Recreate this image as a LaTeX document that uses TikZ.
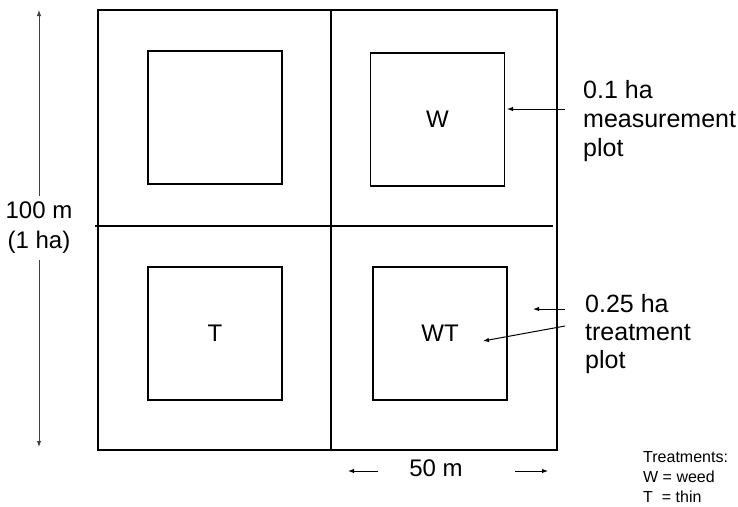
\documentclass[tikz,border=0pt]{standalone}
\usepackage{fontspec}
\setmainfont{Liberation Sans}
\usetikzlibrary{arrows.meta}

\tikzset{
	edge/.style={line width=1.3pt},
	measbox/.style={draw, edge, minimum width=134pt, minimum height=133pt, inner sep=0pt, font=\fontsize{24}{29}\selectfont},
	biglabel/.style={inner sep=0pt, align=left, font=\fontsize{25}{29}\selectfont},
	smalllabel/.style={inner sep=0pt, align=left, font=\fontsize{16}{20}\selectfont},
	ptr/.style={-{Latex[length=6pt,width=4.5pt]}, line width=1pt}
}

\begin{document}
\begin{tikzpicture}[x=1pt,y=-1pt]
	%%%%% START %%%%%
	\useasboundingbox (0,0) rectangle (738,506);
	
	% the 1 ha stand and its four treatment plots
	\node[draw, edge, minimum width=459pt, minimum height=440pt, inner sep=0pt] (stand) at (327.5,230) {};
	\draw[edge] (331,10) -- (331,450);
	\draw[edge] (95,226) -- (553,226);
	
	% measurement plots
	\node[measbox] (tl) at (215,117.5) {};
	\node[measbox] (tr) at (437.5,119.5) {W};
	\node[measbox] (bl) at (215,333.5) {T};
	\node[measbox] (br) at (440,333.5) {WT};
	
	% labels on the right
	\node[biglabel, anchor=north west] (meas) at (583,80) {0.1 ha\\measurement\\plot};
	\coordinate (measfrom) at (565,109);
	\coordinate (measto) at (507,109);
	\draw[ptr] (measfrom) -- (measto);
	
	\node[biglabel, anchor=north west, font=\fontsize{25}{28}\selectfont] (treat) at (585,294) {0.25 ha\\treatment\\plot};
	\coordinate (treatfrom) at (565,309);
	\coordinate (treatto) at (533,309);
	\coordinate (wtfrom) at (565,326);
	\coordinate (wtto) at (483,341);
	\draw[ptr] (treatfrom) -- (treatto);
	\draw[ptr] (wtfrom) -- (wtto);
	
	% dimensions
	\node[biglabel, align=center, font=\fontsize{24}{30}\selectfont] (height) at (39,228) {100 m\\(1 ha)};
	\coordinate (htop) at (39,10);
	\coordinate (hbot) at (39,447);
	\draw[ptr, black!75] (height.north) ++(0,-6) -- (htop);
	\draw[ptr, black!75] (height.south) ++(0,6) -- (hbot);
	
	\node[biglabel, font=\fontsize{24}{29}\selectfont] (width) at (436,468) {50 m};
	\coordinate (wleft) at (348,471);
	\coordinate (wright) at (548,471);
	\draw[ptr] (378,471) -- (wleft);
	\draw[ptr] (515,471) -- (wright);
	
	\node[smalllabel, anchor=north west] (key) at (643,451) {Treatments:\\W = weed\\T\ \ = thin};
	
	%%%%% END %%%%%
\end{tikzpicture}
\end{document}
